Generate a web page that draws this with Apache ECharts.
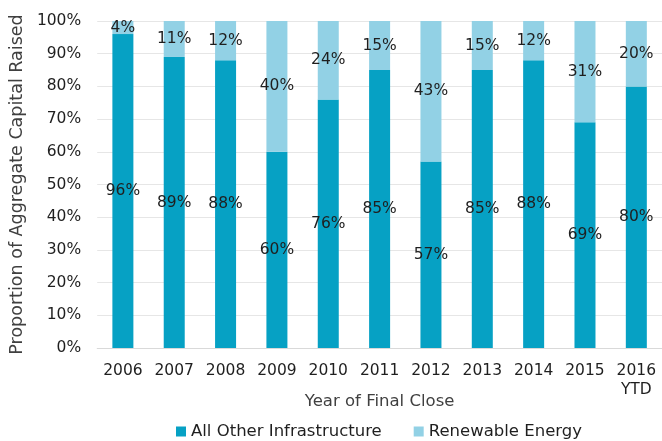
<!DOCTYPE html>
<html>
<head>
<meta charset="utf-8">
<script src="https://cdn.jsdelivr.net/npm/echarts@6/dist/echarts.min.js"></script>
<style>
  html, body { margin: 0; padding: 0; background: #fff; }
  #chart { width: 662px; height: 441px; }
</style>
</head>
<body>
<div id="chart"></div>
<script>
// 募集年份 / 各类别占比（%）
const years = ['2006', '2007', '2008', '2009', '2010', '2011', '2012', '2013', '2014', '2015', '2016\nYTD'];
const otherInfra = [96, 89, 88, 60, 76, 85, 57, 85, 88, 69, 80];
const renewable = [4, 11, 12, 40, 24, 15, 43, 15, 12, 31, 20];

const font = 'DejaVu Sans';
const textColor = '#1f1f1f';

const chart = echarts.init(document.getElementById('chart'));

const labelStyle = {
  show: true,
  position: 'inside',
  formatter: '{c}%',
  color: textColor,
  fontFamily: font,
  fontSize: 15.5,
};

chart.setOption({
  animation: false,
  textStyle: { fontFamily: font },
  grid: { left: 95, top: 21, width: 570, height: 327 },
  legend: {
    top: 418,
    left: 171,
    itemWidth: 10,
    itemHeight: 10,
    itemGap: 32,
    icon: 'rect',
    textStyle: { color: textColor, fontFamily: font, fontSize: 16.5 },
    data: ['All Other Infrastructure', 'Renewable Energy'],
  },
  xAxis: {
    type: 'category',
    data: years,
    name: 'Year of Final Close',
    nameLocation: 'middle',
    nameGap: 45,
    nameMoveOverlap: false,
    nameTextStyle: { color: '#404040', fontFamily: font, fontSize: 16.5 },
    axisLine: { lineStyle: { color: '#d9d9d9' } },
    axisTick: { show: false },
    axisLabel: { color: textColor, fontFamily: font, fontSize: 15.5, margin: 13, lineHeight: 19 },
  },
  yAxis: {
    type: 'value',
    min: 0,
    max: 100,
    interval: 10,
    name: 'Proportion of Aggregate Capital Raised',
    nameLocation: 'middle',
    nameGap: 70,
    nameTextStyle: { color: '#404040', fontFamily: font, fontSize: 17.5 },
    axisLine: { show: false },
    axisTick: { show: false },
    axisLabel: { color: textColor, fontFamily: font, fontSize: 15.5, margin: 16, formatter: '{value}%' },
    splitLine: { lineStyle: { color: '#e6e6e6' } },
  },
  series: [
    {
      name: 'All Other Infrastructure',
      type: 'bar',
      stack: 'total',
      barWidth: 21,
      data: otherInfra,
      itemStyle: { color: '#06a1c4' },
      label: labelStyle,
    },
    {
      name: 'Renewable Energy',
      type: 'bar',
      stack: 'total',
      barWidth: 21,
      data: renewable,
      itemStyle: { color: '#92d1e5' },
      label: labelStyle,
    },
  ],
});

window.addEventListener('resize', () => {
  chart.resize();
});
</script>
</body>
</html>
